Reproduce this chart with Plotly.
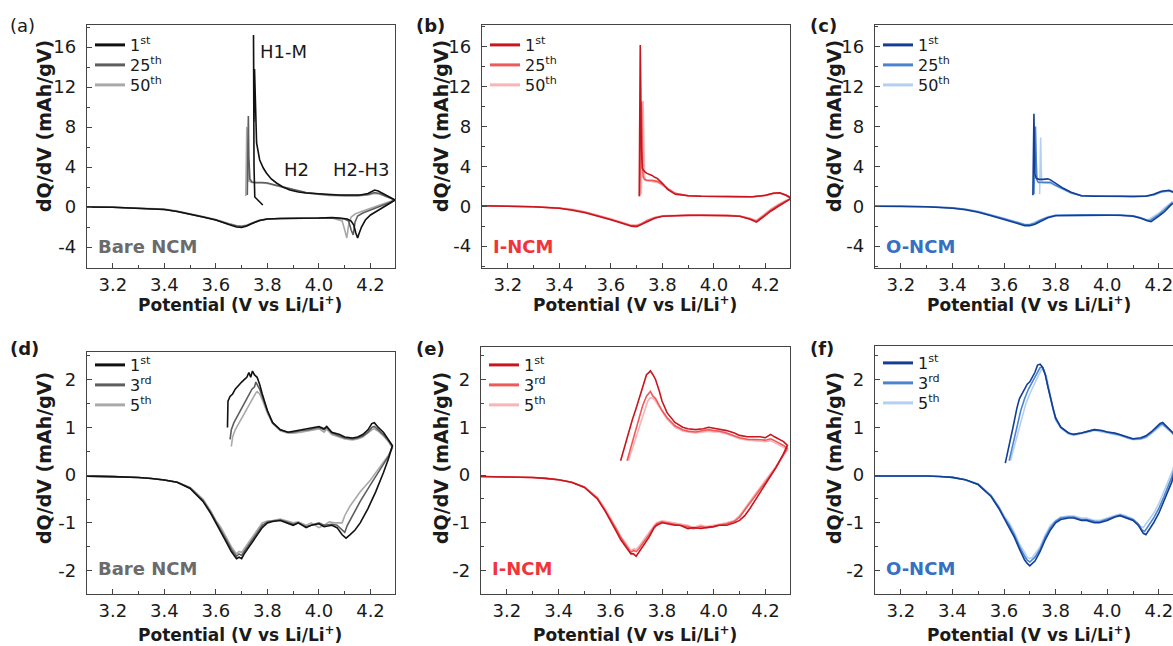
import plotly.graph_objects as go

W, H = 1173, 646
FONT = "DejaVu Sans, Liberation Sans, Arial, sans-serif"

# ---------------- data (V vs Li/Li+, dQ/dV in mAh/gV) ----------------
# (a) Bare NCM, long cycling
a_1st_v = [3.782, 3.770, 3.760, 3.751, 3.748, 3.747, 3.746, 3.747, 3.748, 3.750, 3.754, 3.758, 3.770, 3.784, 3.796,
           3.815, 3.835, 3.860, 3.887, 3.92, 3.95, 4.00, 4.04, 4.08, 4.12, 4.16, 4.19, 4.205, 4.216, 4.23, 4.25, 4.27, 4.295,
           4.28, 4.26, 4.23, 4.20, 4.18, 4.165, 4.155, 4.150, 4.143, 4.135, 4.125, 4.11, 4.08, 4.05, 4.00, 3.95, 3.90, 3.85,
           3.80, 3.77, 3.74, 3.72, 3.70, 3.68, 3.65, 3.60, 3.55, 3.50, 3.45, 3.40, 3.30, 3.20, 3.10]
a_1st_q = [0.2, 0.5, 0.8, 1.0, 4.0, 14.0, 17.2, 13.5, 8.5, 13.8, 8.0, 6.4, 4.7, 3.9, 3.4,
           2.8, 2.4, 2.0, 1.7, 1.5, 1.4, 1.3, 1.25, 1.2, 1.2, 1.2, 1.35, 1.55, 1.7, 1.6, 1.3, 1.0, 0.7,
           0.45, 0.15, -0.3, -0.8, -1.3, -2.0, -2.7, -3.1, -2.6, -1.8, -1.4, -1.2, -1.1, -1.05, -1.1, -1.1, -1.15, -1.15,
           -1.2, -1.35, -1.65, -1.9, -2.05, -2.0, -1.75, -1.3, -1.0, -0.7, -0.45, -0.25, -0.1, -0.02, 0.0]
a_25th_v = [3.722, 3.724, 3.726, 3.728, 3.732, 3.740, 3.755, 3.78, 3.80, 3.83, 3.86, 3.91, 3.95, 4.00, 4.04, 4.10,
            4.15, 4.19, 4.215, 4.235, 4.26, 4.28, 4.295,
            4.27, 4.24, 4.20, 4.17, 4.15, 4.14, 4.133, 4.125, 4.115, 4.10, 4.05, 4.00, 3.95, 3.90, 3.85, 3.80,
            3.77, 3.74, 3.72, 3.70, 3.68, 3.65, 3.60, 3.55, 3.50, 3.45, 3.40, 3.30, 3.20, 3.10]
a_25th_q = [1.2, 4.0, 9.1, 5.0, 2.8, 2.5, 2.45, 2.45, 2.4, 2.2, 2.0, 1.7, 1.45, 1.3, 1.2, 1.15,
            1.15, 1.25, 1.45, 1.35, 1.1, 0.85, 0.7,
            0.4, 0.1, -0.3, -0.6, -0.9, -1.5, -2.8, -2.3, -1.4, -1.2, -1.1, -1.1, -1.1, -1.15, -1.15, -1.2,
            -1.35, -1.65, -1.85, -1.95, -1.9, -1.7, -1.3, -1.0, -0.7, -0.45, -0.25, -0.1, -0.02, 0.0]
a_50th_v = [3.716, 3.718, 3.720, 3.723, 3.728, 3.740, 3.755, 3.78, 3.80, 3.83, 3.86, 3.91, 3.95, 4.00, 4.04, 4.10,
            4.15, 4.19, 4.215, 4.235, 4.26, 4.28, 4.295,
            4.27, 4.24, 4.20, 4.17, 4.14, 4.125, 4.115, 4.108, 4.100, 4.09, 4.05, 4.00, 3.95, 3.90, 3.85, 3.80,
            3.77, 3.74, 3.72, 3.70, 3.68, 3.65, 3.60, 3.55, 3.50, 3.45, 3.40, 3.30, 3.20, 3.10]
a_50th_q = [1.1, 3.5, 8.0, 4.5, 2.6, 2.45, 2.4, 2.4, 2.35, 2.15, 1.95, 1.65, 1.4, 1.25, 1.15, 1.1,
            1.1, 1.2, 1.35, 1.3, 1.05, 0.8, 0.7,
            0.5, 0.25, -0.1, -0.4, -0.7, -1.0, -1.8, -3.1, -2.3, -1.4, -1.1, -1.1, -1.1, -1.1, -1.15, -1.2,
            -1.3, -1.6, -1.8, -1.9, -1.85, -1.65, -1.25, -0.95, -0.65, -0.4, -0.2, -0.08, -0.02, 0.0]

# (b) I-NCM, long cycling
b_1st_v = [3.710, 3.712, 3.714, 3.716, 3.718, 3.722, 3.73, 3.74, 3.75, 3.76, 3.77, 3.78, 3.80, 3.82, 3.85, 3.90,
           3.95, 4.00, 4.05, 4.10, 4.15, 4.20, 4.23, 4.255, 4.28, 4.30,
           4.28, 4.25, 4.22, 4.195, 4.175, 4.165, 4.14, 4.10, 4.05, 4.00, 3.95, 3.90, 3.85, 3.80, 3.77, 3.74,
           3.72, 3.70, 3.68, 3.65, 3.60, 3.55, 3.50, 3.45, 3.40, 3.30, 3.20, 3.10]
b_1st_q = [1.0, 6.0, 16.2, 12.0, 6.0, 3.8, 3.5, 3.3, 3.2, 3.1, 2.9, 2.8, 2.3, 1.7, 1.2, 1.05,
           1.0, 1.0, 1.0, 0.95, 0.95, 1.1, 1.3, 1.35, 1.1, 0.8,
           0.5, 0.0, -0.5, -1.0, -1.45, -1.6, -1.3, -1.0, -0.95, -0.9, -0.9, -0.9, -0.95, -1.0, -1.2, -1.55,
           -1.85, -2.05, -2.0, -1.75, -1.35, -1.0, -0.65, -0.4, -0.2, -0.05, 0.0, 0.05]
b_25th_v = [3.712, 3.716, 3.719, 3.722, 3.725, 3.73, 3.74, 3.76, 3.78, 3.80, 3.82, 3.85, 3.90, 3.95, 4.00,
            4.05, 4.10, 4.15, 4.20, 4.23, 4.255, 4.28, 4.30,
            4.28, 4.25, 4.22, 4.195, 4.175, 4.165, 4.14, 4.10, 4.05, 4.00, 3.95, 3.90, 3.85, 3.80, 3.77, 3.74,
            3.72, 3.70, 3.68, 3.65, 3.60, 3.55, 3.50, 3.45, 3.40, 3.30, 3.20, 3.10]
b_25th_q = [1.0, 5.0, 10.5, 6.0, 3.0, 2.7, 2.6, 2.6, 2.5, 2.2, 1.8, 1.3, 1.05, 1.0, 1.0,
            0.95, 0.95, 0.95, 1.1, 1.3, 1.35, 1.1, 0.8,
            0.55, 0.1, -0.4, -0.9, -1.35, -1.5, -1.25, -1.0, -0.9, -0.9, -0.9, -0.9, -0.95, -1.0, -1.15, -1.45,
            -1.75, -1.95, -1.95, -1.7, -1.3, -0.95, -0.6, -0.35, -0.2, -0.05, 0.0, 0.05]
b_50th_v = [3.718, 3.722, 3.725, 3.728, 3.731, 3.735, 3.745, 3.76, 3.78, 3.80, 3.82, 3.85, 3.90, 3.95, 4.00,
            4.05, 4.10, 4.15, 4.20, 4.23, 4.255, 4.28, 4.30,
            4.28, 4.25, 4.22, 4.195, 4.175, 4.165, 4.14, 4.10, 4.05, 4.00, 3.95, 3.90, 3.85, 3.80, 3.77, 3.74,
            3.72, 3.70, 3.68, 3.65, 3.60, 3.55, 3.50, 3.45, 3.40, 3.30, 3.20, 3.10]
b_50th_q = [1.2, 5.5, 10.6, 6.0, 3.0, 2.6, 2.55, 2.5, 2.4, 2.1, 1.75, 1.3, 1.05, 1.0, 0.95,
            0.95, 0.9, 0.95, 1.05, 1.25, 1.3, 1.1, 0.8,
            0.6, 0.2, -0.3, -0.8, -1.25, -1.4, -1.2, -0.95, -0.9, -0.85, -0.85, -0.85, -0.9, -0.95, -1.1, -1.4,
            -1.7, -1.9, -1.9, -1.65, -1.25, -0.9, -0.55, -0.3, -0.15, -0.05, 0.0, 0.05]

# (c) O-NCM, long cycling
c_1st_v = [3.712, 3.714, 3.716, 3.718, 3.720, 3.725, 3.735, 3.75, 3.77, 3.78, 3.80, 3.83, 3.86, 3.90, 3.95,
           4.00, 4.05, 4.10, 4.15, 4.18, 4.21, 4.24, 4.27, 4.30,
           4.28, 4.25, 4.22, 4.20, 4.185, 4.17, 4.155, 4.13, 4.10, 4.05, 4.00, 3.95, 3.90, 3.85, 3.80, 3.77,
           3.74, 3.72, 3.70, 3.68, 3.65, 3.60, 3.55, 3.50, 3.45, 3.40, 3.30, 3.20, 3.10]
c_1st_q = [1.1, 5.0, 9.3, 6.0, 3.2, 2.8, 2.7, 2.7, 2.75, 2.65, 2.3, 1.8, 1.4, 1.05, 1.0,
           1.0, 1.0, 0.95, 1.0, 1.2, 1.5, 1.6, 1.3, 0.8,
           0.5, 0.2, -0.6, -1.0, -1.3, -1.55, -1.45, -1.2, -1.0, -0.9, -0.9, -0.9, -0.9, -0.9, -0.95, -1.15,
           -1.5, -1.8, -1.95, -1.95, -1.7, -1.3, -0.95, -0.6, -0.35, -0.2, -0.05, 0.0, 0.0]
c_25th_v = [3.716, 3.719, 3.722, 3.725, 3.728, 3.733, 3.74, 3.75, 3.77, 3.78, 3.80, 3.83, 3.86, 3.90, 3.95,
            4.00, 4.05, 4.10, 4.15, 4.18, 4.21, 4.24, 4.27, 4.30,
            4.28, 4.25, 4.22, 4.20, 4.18, 4.165, 4.15, 4.13, 4.10, 4.05, 4.00, 3.95, 3.90, 3.85, 3.80, 3.77,
            3.74, 3.72, 3.70, 3.68, 3.65, 3.60, 3.55, 3.50, 3.45, 3.40, 3.30, 3.20, 3.10]
c_25th_q = [1.2, 4.0, 8.0, 4.5, 2.6, 2.4, 2.4, 2.4, 2.45, 2.4, 2.1, 1.7, 1.35, 1.05, 1.0,
            1.0, 1.0, 0.95, 1.0, 1.15, 1.45, 1.55, 1.3, 0.8,
            0.6, 0.3, -0.4, -0.85, -1.2, -1.45, -1.35, -1.15, -0.95, -0.9, -0.85, -0.85, -0.85, -0.85, -0.9, -1.1,
            -1.4, -1.7, -1.85, -1.85, -1.6, -1.25, -0.9, -0.55, -0.3, -0.15, -0.05, 0.0, 0.0]
c_50th_v = [3.738, 3.740, 3.742, 3.744, 3.746, 3.75, 3.77, 3.78, 3.80, 3.83, 3.86, 3.90, 3.95,
            4.00, 4.05, 4.10, 4.15, 4.18, 4.21, 4.24, 4.27, 4.30,
            4.28, 4.25, 4.22, 4.20, 4.175, 4.16, 4.145, 4.12, 4.10, 4.05, 4.00, 3.95, 3.90, 3.85, 3.80, 3.77,
            3.74, 3.72, 3.70, 3.68, 3.65, 3.60, 3.55, 3.50, 3.45, 3.40, 3.30, 3.20, 3.10]
c_50th_q = [1.2, 3.5, 6.9, 4.0, 2.5, 2.35, 2.35, 2.3, 2.05, 1.65, 1.3, 1.05, 1.0,
            1.0, 0.95, 0.95, 1.0, 1.1, 1.4, 1.5, 1.3, 0.8,
            0.65, 0.4, -0.2, -0.7, -1.1, -1.35, -1.3, -1.1, -0.95, -0.85, -0.85, -0.85, -0.85, -0.85, -0.9, -1.05,
            -1.35, -1.6, -1.8, -1.8, -1.55, -1.2, -0.85, -0.5, -0.3, -0.15, -0.05, 0.0, 0.0]

# (d) Bare NCM, first cycles
d_1st_v = [3.645, 3.647, 3.655, 3.665, 3.675, 3.69, 3.70, 3.71, 3.72, 3.728, 3.735, 3.742, 3.75, 3.76, 3.77, 3.78,
           3.80, 3.82, 3.85, 3.88, 3.90, 3.93, 3.96, 3.98, 4.00, 4.02, 4.03, 4.05, 4.08, 4.10, 4.13, 4.15, 4.17,
           4.19, 4.205, 4.215, 4.23, 4.25, 4.27, 4.285,
           4.27, 4.25, 4.22, 4.19, 4.16, 4.14, 4.12, 4.105, 4.09, 4.07, 4.05, 4.02, 4.00, 3.97, 3.95, 3.92,
           3.90, 3.87, 3.85, 3.82, 3.80, 3.78, 3.76, 3.74, 3.72, 3.71, 3.70, 3.69, 3.68, 3.66, 3.64, 3.62,
           3.60, 3.58, 3.55, 3.52, 3.50, 3.45, 3.40, 3.35, 3.30, 3.20, 3.10]
d_1st_q = [1.0, 1.55, 1.65, 1.7, 1.8, 1.9, 1.95, 2.0, 2.05, 2.15, 2.05, 2.18, 2.1, 2.05, 1.9, 1.7,
           1.35, 1.1, 0.95, 0.9, 0.92, 0.95, 0.98, 1.0, 1.02, 0.97, 1.02, 0.9, 0.85, 0.8, 0.78, 0.8, 0.85,
           0.95, 1.08, 1.1, 1.0, 0.9, 0.75, 0.62,
           0.35, 0.05, -0.35, -0.7, -1.0, -1.15, -1.25, -1.32, -1.25, -1.1, -1.05, -1.08, -1.02, -1.05, -1.1, -1.0,
           -1.05, -0.98, -0.95, -0.97, -1.0, -1.1, -1.25, -1.4, -1.55, -1.65, -1.75, -1.72, -1.75, -1.6, -1.4, -1.2,
           -1.0, -0.8, -0.55, -0.38, -0.28, -0.15, -0.1, -0.07, -0.05, -0.03, -0.02]
d_3rd_v = [3.655, 3.66, 3.67, 3.68, 3.69, 3.70, 3.71, 3.72, 3.73, 3.74, 3.75, 3.755, 3.77, 3.78,
           3.80, 3.82, 3.85, 3.88, 3.90, 3.93, 3.96, 3.98, 4.00, 4.02, 4.03, 4.05, 4.08, 4.10, 4.13, 4.15, 4.17,
           4.19, 4.205, 4.215, 4.23, 4.25, 4.27, 4.285,
           4.27, 4.24, 4.20, 4.16, 4.13, 4.11, 4.10, 4.09, 4.07, 4.05, 4.02, 4.00, 3.97, 3.95, 3.92,
           3.90, 3.87, 3.85, 3.82, 3.80, 3.78, 3.76, 3.74, 3.72, 3.71, 3.70, 3.69, 3.68, 3.66, 3.64, 3.62,
           3.60, 3.58, 3.55, 3.52, 3.50, 3.45, 3.40, 3.35, 3.30, 3.20, 3.10]
d_3rd_q = [0.75, 0.95, 1.1, 1.2, 1.3, 1.4, 1.5, 1.6, 1.7, 1.8, 1.85, 1.95, 1.8, 1.65,
           1.35, 1.1, 0.95, 0.9, 0.9, 0.93, 0.95, 0.98, 1.0, 0.95, 1.0, 0.88, 0.82, 0.78, 0.76, 0.78, 0.82,
           0.9, 1.0, 1.02, 0.95, 0.85, 0.72, 0.6,
           0.4, 0.15, -0.2, -0.55, -0.85, -1.05, -1.2, -1.15, -1.05, -1.03, -1.05, -1.0, -1.05, -1.08, -1.0,
           -1.03, -0.97, -0.94, -0.96, -0.98, -1.05, -1.2, -1.35, -1.5, -1.6, -1.68, -1.65, -1.7, -1.55, -1.35, -1.15,
           -0.98, -0.78, -0.53, -0.37, -0.27, -0.15, -0.1, -0.07, -0.05, -0.03, -0.02]
d_5th_v = [3.66, 3.665, 3.675, 3.685, 3.695, 3.705, 3.715, 3.725, 3.735, 3.745, 3.755, 3.76, 3.77, 3.78,
           3.80, 3.82, 3.85, 3.88, 3.90, 3.93, 3.96, 3.98, 4.00, 4.02, 4.03, 4.05, 4.08, 4.10, 4.13, 4.15, 4.17,
           4.19, 4.205, 4.215, 4.23, 4.25, 4.27, 4.285,
           4.27, 4.24, 4.20, 4.16, 4.12, 4.10, 4.09, 4.08, 4.06, 4.04, 4.02, 4.00, 3.97, 3.95, 3.92,
           3.90, 3.87, 3.85, 3.82, 3.80, 3.78, 3.76, 3.74, 3.72, 3.71, 3.70, 3.69, 3.68, 3.66, 3.64, 3.62,
           3.60, 3.58, 3.55, 3.52, 3.50, 3.45, 3.40, 3.35, 3.30, 3.20, 3.10]
d_5th_q = [0.6, 0.8, 0.95, 1.05, 1.15, 1.25, 1.35, 1.45, 1.55, 1.65, 1.72, 1.75, 1.7, 1.58,
           1.3, 1.08, 0.93, 0.88, 0.88, 0.9, 0.93, 0.95, 0.97, 0.9, 0.96, 0.85, 0.8, 0.76, 0.74, 0.76, 0.8,
           0.88, 0.95, 0.97, 0.92, 0.82, 0.7, 0.57,
           0.42, 0.2, -0.1, -0.35, -0.65, -0.85, -1.0, -1.0, -1.0, -0.98, -1.05, -1.1, -1.0, -1.05, -0.98,
           -1.0, -0.95, -0.92, -0.95, -0.96, -1.0, -1.15, -1.3, -1.45, -1.55, -1.62, -1.6, -1.65, -1.5, -1.3, -1.1,
           -0.95, -0.75, -0.5, -0.35, -0.26, -0.15, -0.1, -0.07, -0.05, -0.03, -0.02]

# (e) I-NCM, first cycles
e_1st_v = [3.64, 3.655, 3.67, 3.685, 3.70, 3.715, 3.73, 3.74, 3.75, 3.755, 3.765, 3.775, 3.79, 3.80, 3.82,
           3.85, 3.88, 3.90, 3.93, 3.96, 3.98, 4.00, 4.02, 4.05, 4.08, 4.10, 4.13, 4.15, 4.18, 4.20, 4.22,
           4.235, 4.25, 4.27, 4.285,
           4.27, 4.24, 4.20, 4.17, 4.14, 4.12, 4.10, 4.08, 4.05, 4.02, 4.00, 3.97, 3.95, 3.92, 3.90, 3.87,
           3.85, 3.82, 3.80, 3.78, 3.77, 3.75, 3.73, 3.72, 3.71, 3.70, 3.69, 3.68, 3.66, 3.64, 3.62, 3.60,
           3.58, 3.55, 3.52, 3.50, 3.45, 3.40, 3.35, 3.30, 3.20, 3.10]
e_1st_q = [0.3, 0.6, 0.9, 1.15, 1.4, 1.65, 1.9, 2.1, 2.15, 2.18, 2.1, 2.0, 1.75, 1.55, 1.3,
           1.1, 1.0, 0.97, 0.95, 0.97, 1.0, 0.98, 0.97, 0.93, 0.88, 0.83, 0.8, 0.8, 0.8, 0.78, 0.85,
           0.8, 0.75, 0.7, 0.62,
           0.45, 0.15, -0.2, -0.45, -0.7, -0.85, -0.95, -1.0, -1.05, -1.05, -1.08, -1.1, -1.12, -1.1, -1.12, -1.05,
           -1.05, -1.02, -1.0, -1.05, -1.1, -1.3, -1.45, -1.55, -1.6, -1.7, -1.65, -1.65, -1.5, -1.35, -1.15, -0.95,
           -0.75, -0.5, -0.35, -0.26, -0.15, -0.1, -0.07, -0.05, -0.04, -0.03]
e_3rd_v = [3.665, 3.68, 3.695, 3.71, 3.725, 3.74, 3.75, 3.755, 3.765, 3.775, 3.79, 3.80, 3.82,
           3.85, 3.88, 3.90, 3.93, 3.96, 3.98, 4.00, 4.02, 4.05, 4.08, 4.10, 4.13, 4.15, 4.18, 4.20, 4.22,
           4.235, 4.25, 4.27, 4.285,
           4.27, 4.24, 4.20, 4.16, 4.12, 4.10, 4.08, 4.05, 4.02, 4.00, 3.97, 3.95, 3.92, 3.90, 3.87,
           3.85, 3.82, 3.80, 3.78, 3.77, 3.75, 3.73, 3.72, 3.71, 3.70, 3.69, 3.68, 3.66, 3.64, 3.62, 3.60,
           3.58, 3.55, 3.52, 3.50, 3.45, 3.40, 3.35, 3.30, 3.20, 3.10]
e_3rd_q = [0.3, 0.6, 0.9, 1.2, 1.45, 1.65, 1.72, 1.75, 1.65, 1.6, 1.45, 1.35, 1.2,
           1.03, 0.95, 0.92, 0.9, 0.93, 0.95, 0.93, 0.92, 0.88, 0.82, 0.78, 0.75, 0.75, 0.74, 0.73, 0.76,
           0.72, 0.68, 0.62, 0.56,
           0.42, 0.15, -0.15, -0.45, -0.75, -0.88, -0.97, -1.02, -1.05, -1.08, -1.1, -1.08, -1.12, -1.08, -1.05,
           -1.03, -1.0, -0.98, -1.02, -1.08, -1.25, -1.4, -1.5, -1.55, -1.6, -1.58, -1.62, -1.45, -1.3, -1.1, -0.92,
           -0.72, -0.48, -0.34, -0.25, -0.15, -0.1, -0.07, -0.05, -0.04, -0.03]
e_5th_v = [3.67, 3.685, 3.70, 3.715, 3.73, 3.745, 3.755, 3.765, 3.775, 3.79, 3.80, 3.82,
           3.85, 3.88, 3.90, 3.93, 3.96, 3.98, 4.00, 4.02, 4.05, 4.08, 4.10, 4.13, 4.15, 4.18, 4.20, 4.22,
           4.235, 4.25, 4.27, 4.285,
           4.27, 4.24, 4.20, 4.16, 4.12, 4.10, 4.08, 4.05, 4.02, 4.00, 3.97, 3.95, 3.92, 3.90, 3.87,
           3.85, 3.82, 3.80, 3.78, 3.77, 3.75, 3.73, 3.72, 3.71, 3.70, 3.69, 3.68, 3.66, 3.64, 3.62, 3.60,
           3.58, 3.55, 3.52, 3.50, 3.45, 3.40, 3.35, 3.30, 3.20, 3.10]
e_5th_q = [0.3, 0.55, 0.8, 1.1, 1.35, 1.55, 1.62, 1.6, 1.55, 1.42, 1.32, 1.17,
           1.0, 0.92, 0.9, 0.88, 0.9, 0.92, 0.9, 0.9, 0.86, 0.8, 0.76, 0.73, 0.72, 0.72, 0.7, 0.72,
           0.68, 0.64, 0.58, 0.52,
           0.42, 0.18, -0.1, -0.4, -0.7, -0.85, -0.95, -1.0, -1.03, -1.05, -1.08, -1.05, -1.1, -1.05, -1.02,
           -1.0, -0.98, -0.96, -1.0, -1.05, -1.2, -1.35, -1.45, -1.5, -1.55, -1.55, -1.58, -1.42, -1.28, -1.08, -0.9,
           -0.7, -0.47, -0.33, -0.25, -0.15, -0.1, -0.07, -0.05, -0.04, -0.03]

# (f) O-NCM, first cycles
f_1st_v = [3.605, 3.62, 3.635, 3.65, 3.66, 3.675, 3.69, 3.70, 3.71, 3.72, 3.73, 3.74, 3.75, 3.76, 3.77, 3.78,
           3.79, 3.80, 3.82, 3.85, 3.87, 3.90, 3.93, 3.95, 3.98, 4.00, 4.03, 4.05, 4.08, 4.10, 4.13, 4.15,
           4.17, 4.19, 4.205, 4.215, 4.23, 4.25, 4.27, 4.29,
           4.28, 4.25, 4.22, 4.20, 4.18, 4.16, 4.15, 4.14, 4.12, 4.10, 4.07, 4.05, 4.03, 4.00, 3.97, 3.95, 3.92,
           3.90, 3.87, 3.85, 3.82, 3.80, 3.78, 3.76, 3.74, 3.72, 3.71, 3.70, 3.69, 3.68, 3.66, 3.64, 3.62,
           3.60, 3.58, 3.55, 3.52, 3.50, 3.45, 3.40, 3.35, 3.30, 3.20, 3.10]
f_1st_q = [0.25, 0.6, 1.0, 1.4, 1.6, 1.75, 1.9, 1.95, 2.05, 2.15, 2.3, 2.32, 2.25, 2.1, 1.85, 1.6,
           1.4, 1.2, 1.0, 0.88, 0.85, 0.88, 0.92, 0.95, 0.93, 0.9, 0.88, 0.85, 0.8, 0.76, 0.78, 0.82,
           0.9, 1.0, 1.08, 1.1, 1.02, 0.92, 0.8, 0.6,
           0.45, -0.15, -0.55, -0.8, -1.0, -1.15, -1.25, -1.22, -1.05, -0.95, -0.88, -0.85, -0.88, -0.95, -1.0, -1.0, -0.95,
           -0.95, -0.9, -0.9, -0.93, -1.0, -1.15, -1.35, -1.6, -1.8, -1.85, -1.9, -1.85, -1.78, -1.55, -1.3, -1.1,
           -0.9, -0.7, -0.45, -0.3, -0.2, -0.1, -0.05, -0.03, -0.02, -0.02, -0.02]
f_3rd_v = [3.62, 3.635, 3.65, 3.665, 3.68, 3.695, 3.71, 3.72, 3.73, 3.74, 3.75, 3.76, 3.77, 3.78,
           3.79, 3.80, 3.82, 3.85, 3.87, 3.90, 3.93, 3.95, 3.98, 4.00, 4.03, 4.05, 4.08, 4.10, 4.13, 4.15,
           4.17, 4.19, 4.205, 4.215, 4.23, 4.25, 4.27, 4.29,
           4.28, 4.25, 4.22, 4.20, 4.18, 4.16, 4.145, 4.135, 4.12, 4.10, 4.07, 4.05, 4.03, 4.00, 3.97, 3.95, 3.92,
           3.90, 3.87, 3.85, 3.82, 3.80, 3.78, 3.76, 3.74, 3.72, 3.71, 3.70, 3.69, 3.68, 3.66, 3.64, 3.62,
           3.60, 3.58, 3.55, 3.52, 3.50, 3.45, 3.40, 3.35, 3.30, 3.20, 3.10]
f_3rd_q = [0.3, 0.65, 1.0, 1.35, 1.6, 1.8, 1.95, 2.05, 2.15, 2.25, 2.25, 2.1, 1.85, 1.6,
           1.38, 1.18, 1.0, 0.88, 0.85, 0.88, 0.92, 0.95, 0.92, 0.9, 0.87, 0.84, 0.78, 0.75, 0.76, 0.8,
           0.88, 0.98, 1.05, 1.07, 1.0, 0.9, 0.78, 0.6,
           0.5, -0.05, -0.45, -0.7, -0.9, -1.05, -1.18, -1.15, -1.02, -0.93, -0.87, -0.84, -0.87, -0.93, -0.98, -0.97, -0.93,
           -0.93, -0.88, -0.88, -0.9, -0.97, -1.1, -1.3, -1.55, -1.72, -1.78, -1.82, -1.78, -1.7, -1.5, -1.25, -1.05,
           -0.88, -0.68, -0.44, -0.3, -0.2, -0.1, -0.05, -0.03, -0.02, -0.02, -0.02]
f_5th_v = [3.625, 3.64, 3.655, 3.67, 3.685, 3.70, 3.715, 3.725, 3.735, 3.745, 3.755, 3.765, 3.775, 3.785,
           3.79, 3.80, 3.82, 3.85, 3.87, 3.90, 3.93, 3.95, 3.98, 4.00, 4.03, 4.05, 4.08, 4.10, 4.13, 4.15,
           4.17, 4.19, 4.205, 4.215, 4.23, 4.25, 4.27, 4.29,
           4.28, 4.25, 4.22, 4.20, 4.18, 4.16, 4.14, 4.13, 4.115, 4.10, 4.07, 4.05, 4.03, 4.00, 3.97, 3.95, 3.92,
           3.90, 3.87, 3.85, 3.82, 3.80, 3.78, 3.76, 3.74, 3.72, 3.71, 3.70, 3.69, 3.68, 3.66, 3.64, 3.62,
           3.60, 3.58, 3.55, 3.52, 3.50, 3.45, 3.40, 3.35, 3.30, 3.20, 3.10]
f_5th_q = [0.3, 0.6, 0.95, 1.25, 1.5, 1.7, 1.88, 2.0, 2.1, 2.2, 2.2, 2.05, 1.8, 1.55,
           1.4, 1.15, 0.98, 0.86, 0.83, 0.86, 0.9, 0.93, 0.9, 0.88, 0.85, 0.82, 0.77, 0.74, 0.75, 0.78,
           0.86, 0.95, 1.02, 1.04, 0.98, 0.88, 0.76, 0.6,
           0.55, 0.05, -0.35, -0.6, -0.8, -0.95, -1.1, -1.08, -1.0, -0.92, -0.85, -0.82, -0.85, -0.9, -0.95, -0.95, -0.9,
           -0.9, -0.86, -0.86, -0.88, -0.95, -1.05, -1.25, -1.5, -1.65, -1.72, -1.75, -1.72, -1.62, -1.45, -1.2, -1.0,
           -0.85, -0.65, -0.42, -0.28, -0.18, -0.1, -0.05, -0.03, -0.02, -0.02, -0.02]

long_labels = ["1<sup>st</sup>", "25<sup>th</sup>", "50<sup>th</sup>"]
short_labels = ["1<sup>st</sup>", "3<sup>rd</sup>", "5<sup>th</sup>"]
sample_names = ["Bare NCM", "I-NCM", "O-NCM"]
panel_tags = ["(a)", "(b)", "(c)", "(d)", "(e)", "(f)"]
row1_ticks = [-4, 0, 4, 8, 12, 16]
row2_ticks = [-2, -1, 0, 1, 2]
x_ticks = [3.2, 3.4, 3.6, 3.8, 4.0, 4.2]
x_ticklabels = ["3.2", "3.4", "3.6", "3.8", "4.0", "4.2"]
phase_labels = ["H1-M", "H2", "H2-H3"]

gray_cols = ["#111111", "#5e5e5e", "#a9a9a9"]
red_cols = ["#c8161e", "#f0595c", "#f8b4b6"]
blue_cols = ["#123f95", "#4a84cf", "#b3d0f2"]
name_cols = ["#6b6b6b", "#f2343a", "#3570c2"]

# ---------------- layout geometry (pixels) ----------------
# (left, right, top, bottom, xrange, yrange, legend first-row centre)
geom = [
    (87, 395, 25, 268, [3.1, 4.295], [-6.1, 18.2], 42),
    (482, 790, 25, 268, [3.1, 4.295], [-6.2, 18.2], 42),
    (875, 1173, 25, 268, [3.1, 4.255], [-6.2, 18.2], 42),
    (87, 395, 352, 594, [3.1, 4.295], [-2.49, 2.58], 362),
    (481, 790, 347, 594, [3.1, 4.295], [-2.49, 2.68], 362),
    (875, 1173, 346, 594, [3.1, 4.255], [-2.49, 2.70], 360),
]

def px(x):
    return x / W

def py(y):
    return 1 - y / H

series = [
    [(a_1st_v, a_1st_q), (a_25th_v, a_25th_q), (a_50th_v, a_50th_q)],
    [(b_1st_v, b_1st_q), (b_25th_v, b_25th_q), (b_50th_v, b_50th_q)],
    [(c_1st_v, c_1st_q), (c_25th_v, c_25th_q), (c_50th_v, c_50th_q)],
    [(d_1st_v, d_1st_q), (d_3rd_v, d_3rd_q), (d_5th_v, d_5th_q)],
    [(e_1st_v, e_1st_q), (e_3rd_v, e_3rd_q), (e_5th_v, e_5th_q)],
    [(f_1st_v, f_1st_q), (f_3rd_v, f_3rd_q), (f_5th_v, f_5th_q)],
]
palettes = [gray_cols, red_cols, blue_cols, gray_cols, red_cols, blue_cols]

fig = go.Figure()
layout = dict(
    width=W, height=H,
    margin=dict(l=0, r=0, t=0, b=0),
    paper_bgcolor="white", plot_bgcolor="white",
    font=dict(family=FONT, color="#1a1a1a"),
    showlegend=True,
)
annotations = []

for i in range(6):
    n = i + 1
    xa = "x" if n == 1 else f"x{n}"
    ya = "y" if n == 1 else f"y{n}"
    L, R, T, B, xr, yr, lg_c = geom[i]
    cols = palettes[i]
    labels = long_labels if i < 3 else short_labels
    # data (drawn in reverse so the 1st cycle is on top)
    for k in [2, 1, 0]:
        v, q = series[i][k]
        fig.add_trace(go.Scatter(x=v, y=q, mode="lines", xaxis=xa, yaxis=ya,
                                 line=dict(color=cols[k], width=1.6), showlegend=False,
                                 legendgroup=f"p{n}s{k}", hoverinfo="skip"))
    # legend entries: one small legend per entry so the row spacing matches
    for k in range(3):
        idx = i * 3 + k
        lg = "legend" if idx == 0 else f"legend{idx + 1}"
        fig.add_trace(go.Scatter(x=[None], y=[None], mode="lines", xaxis=xa, yaxis=ya,
                                 line=dict(color=cols[k], width=3), name=labels[k],
                                 legend=lg, legendgroup=f"p{n}s{k}"))
        layout[lg] = dict(
            x=px(L + 3), y=py(lg_c + 20 * k - 14), xanchor="left", yanchor="top",
            bgcolor="rgba(0,0,0,0)", borderwidth=0,
            font=dict(size=16, family=FONT, color="#1a1a1a"),
            itemwidth=30,
        )
    right_open = (i % 3 == 2)
    xkey = "xaxis" if n == 1 else f"xaxis{n}"
    ykey = "yaxis" if n == 1 else f"yaxis{n}"
    layout[xkey] = dict(
        domain=[px(L), px(R)], anchor=ya, range=xr,
        tickmode="array", tickvals=x_ticks, ticktext=x_ticklabels,
        ticks="inside", ticklen=5, tickwidth=1.2, tickcolor="#444",
        minor=dict(tickmode="array", tickvals=[3.3, 3.5, 3.7, 3.9, 4.1, 4.3], ticks="inside",
                   ticklen=3, tickwidth=1, tickcolor="#444"),
        showline=True, linecolor="#444", linewidth=1.4, mirror=True,
        showgrid=False, zeroline=False,
        tickfont=dict(size=18, family=FONT, color="#1a1a1a"),
        ticklabelstandoff=0, ticklabeloverflow="allow",
    )
    ytv = row1_ticks if i < 3 else row2_ticks
    yminor = [-6, -2, 2, 6, 10, 14, 18] if i < 3 else [-2.5, -1.5, -0.5, 0.5, 1.5, 2.5]
    layout[ykey] = dict(
        domain=[py(B), py(T)], anchor=xa, range=yr,
        tickmode="array", tickvals=ytv, ticktext=[str(t) for t in ytv],
        ticks="inside", ticklen=5, tickwidth=1.2, tickcolor="#444",
        minor=dict(tickmode="array", tickvals=yminor, ticks="inside",
                   ticklen=3, tickwidth=1, tickcolor="#444"),
        showline=True, linecolor="#444", linewidth=1.4, mirror=(not right_open),
        showgrid=False, zeroline=False,
        tickfont=dict(size=18, family=FONT, color="#1a1a1a"),
        ticklabelstandoff=6,
    )
    # panel tag
    tag_x = [8, 414, 808][i % 3]
    tag_y = 25 if i < 3 else 348
    annotations.append(dict(text=panel_tags[i] if i == 0 else f"<b>{panel_tags[i]}</b>",
                            x=px(tag_x), y=py(tag_y), xref="paper", yref="paper",
                            xanchor="left", yanchor="middle", showarrow=False,
                            font=dict(size=18, family=FONT, color="#1a1a1a")))
    # y title
    yt_x = [44, 441, 834][i % 3]
    yt_y = 126 if i < 3 else 458
    annotations.append(dict(text="<b>dQ/dV (mAh/gV)</b>", textangle=-90,
                            x=px(yt_x), y=py(yt_y), xref="paper", yref="paper",
                            xanchor="center", yanchor="middle", showarrow=False,
                            font=dict(size=19, family=FONT, color="#1a1a1a")))
    # x title
    xt_x = [240, 635, 1029][i % 3]
    xt_y = 304 if i < 3 else 634
    annotations.append(dict(text="<b>Potential (V vs Li/Li<sup>+</sup>)</b>",
                            x=px(xt_x), y=py(xt_y), xref="paper", yref="paper",
                            xanchor="center", yanchor="middle", showarrow=False,
                            font=dict(size=17, family=FONT, color="#1a1a1a")))
    # sample name
    sn_y = 247 if i < 3 else 568
    annotations.append(dict(text=f"<b>{sample_names[i % 3]}</b>",
                            x=px(L + 9), y=py(sn_y), xref="paper", yref="paper",
                            xanchor="left", yanchor="middle", showarrow=False,
                            font=dict(size=18, family=FONT, color=name_cols[i % 3])))

# phase labels in panel (a)
for lbl, xx, yy in zip(phase_labels, [283, 296, 361], [51, 170, 170]):
    annotations.append(dict(text=lbl, x=px(xx), y=py(yy), xref="paper", yref="paper",
                            xanchor="center", yanchor="middle", showarrow=False,
                            font=dict(size=18, family=FONT, color="#1a1a1a")))

layout["annotations"] = annotations
fig.update_layout(**layout)
fig.write_html("out.html", config={"displayModeBar": False},
               post_script="document.body.style.margin='0px';")
